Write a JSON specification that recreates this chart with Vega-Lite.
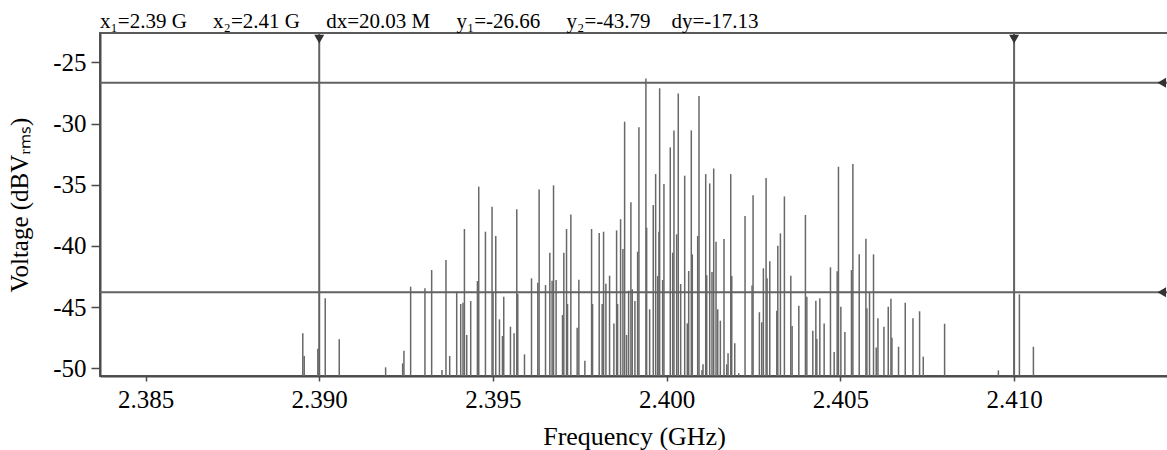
{
  "$schema": "https://vega.github.io/schema/vega-lite/v6.json",
  "autosize": {"type": "none"},
  "padding": {"left": 100, "top": 33, "right": 0, "bottom": 74},
  "width": 1068,
  "height": 343,
  "background": "white",
  "config": {
    "font": "Liberation Serif",
    "view": {"stroke": "#5a5a5a", "strokeWidth": 2}
  },
  "title": {
    "text": "x₁=2.39 G\u00a0\u00a0\u00a0\u00a0\u00a0x₂=2.41 G\u00a0\u00a0\u00a0\u00a0\u00a0dx=20.03 M\u00a0\u00a0\u00a0\u00a0\u00a0y₁=-26.66\u00a0\u00a0\u00a0\u00a0\u00a0y₂=-43.79\u00a0\u00a0\u00a0\u00a0dy=-17.13",
    "anchor": "start",
    "frame": "group",
    "font": "Liberation Serif",
    "fontSize": 21,
    "fontWeight": "normal",
    "color": "black",
    "baseline": "alphabetic",
    "offset": 8,
    "dy": 25
  },
  "datasets": {
    "spectrum": [
      {"f": 2.389527, "v": -47.14}, {"f": 2.389568, "v": -48.99}, {"f": 2.38996, "v": -48.4},
      {"f": 2.390173, "v": -44.28}, {"f": 2.390576, "v": -47.63}, {"f": 2.391911, "v": -49.92},
      {"f": 2.392401, "v": -49.6}, {"f": 2.392438, "v": -48.56}, {"f": 2.392631, "v": -43.33},
      {"f": 2.393043, "v": -43.46}, {"f": 2.393236, "v": -41.97}, {"f": 2.393533, "v": -50.14},
      {"f": 2.393648, "v": -41.15}, {"f": 2.393755, "v": -49.0}, {"f": 2.393957, "v": -43.74},
      {"f": 2.394072, "v": -44.75}, {"f": 2.394138, "v": -44.64}, {"f": 2.394179, "v": -38.62},
      {"f": 2.394245, "v": -47.28}, {"f": 2.39436, "v": -44.5}, {"f": 2.394553, "v": -42.87},
      {"f": 2.394591, "v": -35.16}, {"f": 2.394784, "v": -38.84}, {"f": 2.394974, "v": -36.8},
      {"f": 2.395003, "v": -43.74}, {"f": 2.395081, "v": -39.19}, {"f": 2.395187, "v": -46.0},
      {"f": 2.395274, "v": -47.36}, {"f": 2.395311, "v": -44.15}, {"f": 2.395504, "v": -46.6},
      {"f": 2.395608, "v": -47.14}, {"f": 2.395686, "v": -37.0}, {"f": 2.395715, "v": -43.93},
      {"f": 2.395908, "v": -48.86}, {"f": 2.39611, "v": -42.65}, {"f": 2.396291, "v": -43.0},
      {"f": 2.396329, "v": -35.38}, {"f": 2.396513, "v": -43.2}, {"f": 2.396637, "v": -40.55},
      {"f": 2.396703, "v": -42.84}, {"f": 2.396744, "v": -35.05}, {"f": 2.396818, "v": -42.79},
      {"f": 2.397003, "v": -45.65}, {"f": 2.39704, "v": -40.55}, {"f": 2.397118, "v": -38.62},
      {"f": 2.397147, "v": -44.75}, {"f": 2.397242, "v": -37.44}, {"f": 2.397424, "v": -46.68},
      {"f": 2.397473, "v": -42.76}, {"f": 2.397646, "v": -49.38}, {"f": 2.397839, "v": -38.62},
      {"f": 2.397867, "v": -44.75}, {"f": 2.398058, "v": -38.95}, {"f": 2.398144, "v": -44.75},
      {"f": 2.398184, "v": -38.84}, {"f": 2.398251, "v": -43.1}, {"f": 2.398357, "v": -42.43},
      {"f": 2.398481, "v": -46.33}, {"f": 2.398559, "v": -38.73}, {"f": 2.398588, "v": -44.75},
      {"f": 2.398674, "v": -37.82}, {"f": 2.398741, "v": -40.25}, {"f": 2.39879, "v": -29.85},
      {"f": 2.398847, "v": -47.28}, {"f": 2.398905, "v": -43.66}, {"f": 2.398971, "v": -36.44},
      {"f": 2.399009, "v": -43.55}, {"f": 2.399086, "v": -44.5}, {"f": 2.399164, "v": -40.47},
      {"f": 2.399202, "v": -30.31}, {"f": 2.399403, "v": -26.31}, {"f": 2.399424, "v": -38.51},
      {"f": 2.39951, "v": -45.18}, {"f": 2.399614, "v": -36.66}, {"f": 2.399683, "v": -34.13},
      {"f": 2.399741, "v": -42.46}, {"f": 2.399778, "v": -38.84}, {"f": 2.399798, "v": -27.12},
      {"f": 2.399885, "v": -42.79}, {"f": 2.399922, "v": -34.94}, {"f": 2.400104, "v": -31.95},
      {"f": 2.400173, "v": -40.55}, {"f": 2.40021, "v": -30.56}, {"f": 2.400288, "v": -39.05},
      {"f": 2.400334, "v": -27.54}, {"f": 2.400403, "v": -43.11}, {"f": 2.400519, "v": -34.26},
      {"f": 2.400594, "v": -46.33}, {"f": 2.400634, "v": -42.05}, {"f": 2.400709, "v": -30.56},
      {"f": 2.400738, "v": -40.69}, {"f": 2.400893, "v": -39.19}, {"f": 2.400931, "v": -27.75},
      {"f": 2.401017, "v": -50.14}, {"f": 2.401046, "v": -49.68}, {"f": 2.401124, "v": -34.13},
      {"f": 2.401153, "v": -42.4}, {"f": 2.401239, "v": -34.89}, {"f": 2.401305, "v": -42.13},
      {"f": 2.401354, "v": -33.67}, {"f": 2.401421, "v": -39.65}, {"f": 2.40147, "v": -45.18},
      {"f": 2.401545, "v": -46.11}, {"f": 2.401651, "v": -39.43}, {"f": 2.401729, "v": -49.68},
      {"f": 2.401767, "v": -48.78}, {"f": 2.401844, "v": -34.13}, {"f": 2.401873, "v": -42.46},
      {"f": 2.40196, "v": -47.96}, {"f": 2.402075, "v": -50.41}, {"f": 2.402256, "v": -37.55},
      {"f": 2.402458, "v": -43.24}, {"f": 2.402487, "v": -35.85}, {"f": 2.402669, "v": -45.42},
      {"f": 2.402738, "v": -46.24}, {"f": 2.402784, "v": -41.83}, {"f": 2.402862, "v": -34.45},
      {"f": 2.40289, "v": -42.65}, {"f": 2.402968, "v": -41.26}, {"f": 2.40317, "v": -45.29},
      {"f": 2.403199, "v": -39.98}, {"f": 2.403274, "v": -38.97}, {"f": 2.403389, "v": -35.96},
      {"f": 2.403573, "v": -42.43}, {"f": 2.403611, "v": -46.54}, {"f": 2.403804, "v": -44.89},
      {"f": 2.403994, "v": -37.47}, {"f": 2.404035, "v": -44.15}, {"f": 2.404207, "v": -46.93},
      {"f": 2.404294, "v": -44.48}, {"f": 2.404323, "v": -47.61}, {"f": 2.404409, "v": -44.28},
      {"f": 2.404533, "v": -46.33}, {"f": 2.404715, "v": -41.75}, {"f": 2.404821, "v": -48.67},
      {"f": 2.404908, "v": -42.08}, {"f": 2.404945, "v": -33.53}, {"f": 2.405014, "v": -44.97},
      {"f": 2.40513, "v": -47.04}, {"f": 2.40532, "v": -41.97}, {"f": 2.40536, "v": -33.31},
      {"f": 2.405542, "v": -40.69}, {"f": 2.405735, "v": -39.41}, {"f": 2.405764, "v": -45.1},
      {"f": 2.405839, "v": -43.82}, {"f": 2.405954, "v": -40.69}, {"f": 2.406032, "v": -48.3},
      {"f": 2.406081, "v": -45.92}, {"f": 2.406254, "v": -46.6}, {"f": 2.406378, "v": -44.97},
      {"f": 2.406455, "v": -44.31}, {"f": 2.406484, "v": -47.5}, {"f": 2.406674, "v": -48.24},
      {"f": 2.406867, "v": -44.64}, {"f": 2.407089, "v": -45.92}, {"f": 2.40728, "v": -45.34},
      {"f": 2.407386, "v": -49.05}, {"f": 2.408, "v": -46.36}, {"f": 2.409548, "v": -50.17},
      {"f": 2.410153, "v": -43.95}, {"f": 2.410556, "v": -48.24}
    ],
    "xcursors": [{"x": 2.39}, {"x": 2.41}],
    "ycursors": [{"y": -26.66}, {"y": -43.79}]
  },
  "encoding": {},
  "layer": [
    {
      "data": {"name": "spectrum"},
      "mark": {"type": "rule", "color": "#686868", "strokeWidth": 1.5, "clip": true},
      "encoding": {
        "x": {
          "field": "f", "type": "quantitative",
          "scale": {"domain": [2.38369, 2.41443], "nice": false, "zero": false},
          "axis": {
            "values": [2.385, 2.39, 2.395, 2.4, 2.405, 2.41],
            "format": ".3f",
            "title": "Frequency (GHz)",
            "grid": false,
            "domainColor": "#4a4a4a", "domainWidth": 2,
            "tickColor": "#4a4a4a", "tickWidth": 1.5, "tickSize": 5,
            "labelFont": "Liberation Serif", "labelFontSize": 25, "labelColor": "black",
            "labelPadding": 6,
            "titleFont": "Liberation Serif", "titleFontSize": 26, "titleFontWeight": "normal",
            "titleColor": "black", "titlePadding": 11
          }
        },
        "y": {
          "field": "v", "type": "quantitative",
          "scale": {"domain": [-50.63, -22.6], "nice": false, "zero": false},
          "axis": {
            "values": [-25, -30, -35, -40, -45, -50],
            "labelExpr": "replace(datum.label, '\u2212', '-')",
            "title": "Voltage (dBVᵣₘₛ)",
            "grid": false,
            "domainColor": "#4a4a4a", "domainWidth": 2,
            "tickColor": "#4a4a4a", "tickWidth": 1.5, "tickSize": 9,
            "labelFont": "Liberation Serif", "labelFontSize": 25, "labelColor": "black",
            "labelPadding": 5,
            "titleFont": "Liberation Serif", "titleFontSize": 25, "titleFontWeight": "normal",
            "titleColor": "black", "titlePadding": 20
          }
        },
        "y2": {"datum": -50.63}
      }
    },
    {
      "data": {"name": "xcursors"},
      "mark": {"type": "rule", "color": "#626262", "strokeWidth": 2},
      "encoding": {"x": {"field": "x", "type": "quantitative"}}
    },
    {
      "data": {"name": "ycursors"},
      "mark": {"type": "rule", "color": "#626262", "strokeWidth": 2},
      "encoding": {"y": {"field": "y", "type": "quantitative"}}
    },
    {
      "data": {"name": "xcursors"},
      "mark": {"type": "point", "shape": "triangle-down", "filled": true, "color": "#333333", "size": 100, "opacity": 1},
      "encoding": {
        "x": {"field": "x", "type": "quantitative"},
        "y": {"datum": -23.1}
      }
    },
    {
      "data": {"name": "ycursors"},
      "mark": {"type": "point", "shape": "triangle-left", "filled": true, "color": "#333333", "size": 100, "opacity": 1},
      "encoding": {
        "x": {"datum": 2.41425},
        "y": {"field": "y", "type": "quantitative"}
      }
    }
  ]
}
